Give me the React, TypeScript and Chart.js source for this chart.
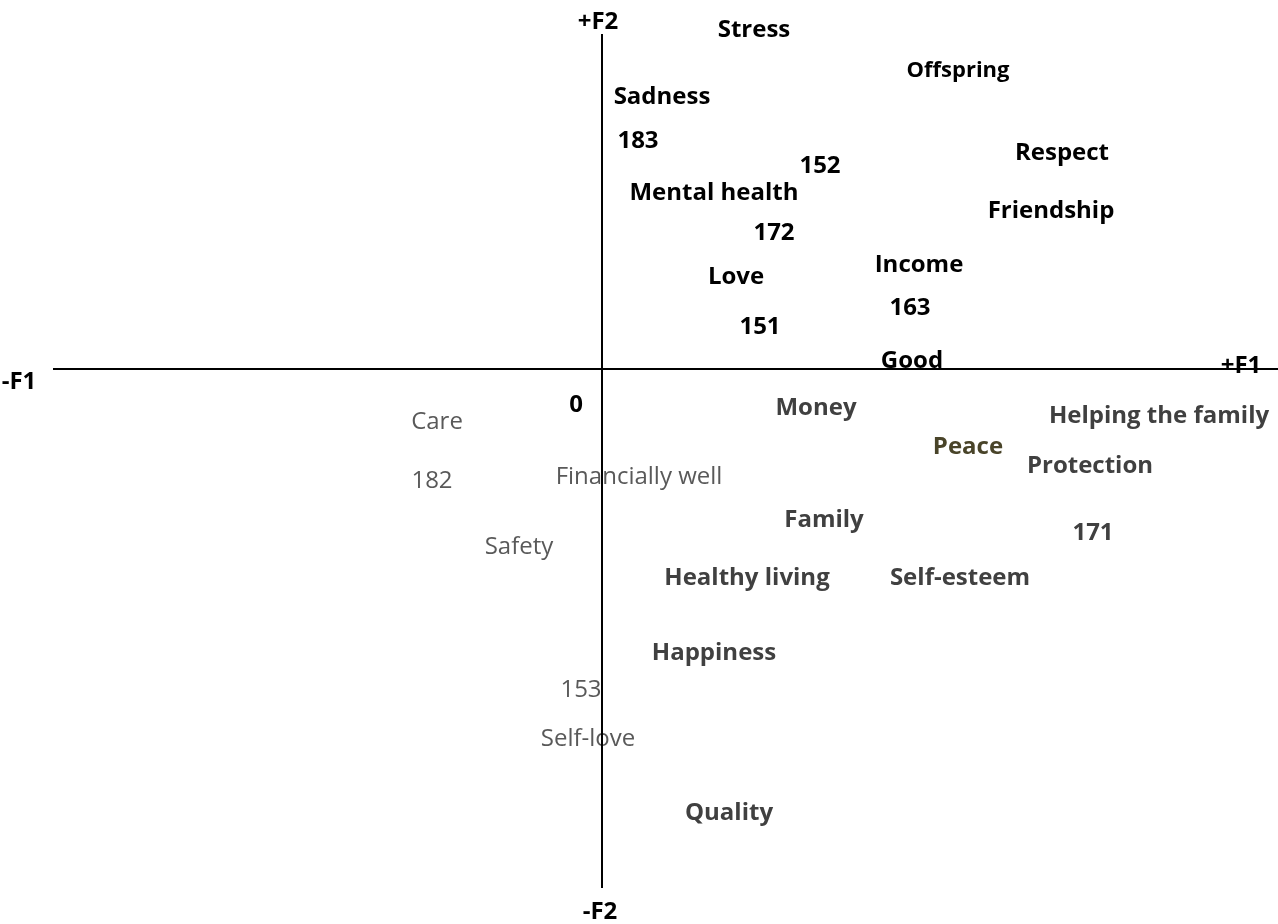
import React, { useEffect, useRef } from "react";
import { Chart, registerables } from "chart.js";

Chart.register(...registerables);

// Pole labels of the two factor axes
const axisLabels = ["+F2", "-F2", "-F1", "+F1"];
const axisF1 = [-0.04, -0.02, -5.83, 6.39];
const axisF2 = [3.47, -5.43, -0.13, 0.03];

// Extent of the drawn axes (factor units)
const f1AxisRange = [-5.49, 6.76];
const f2AxisRange = [-5.19, 3.35];

// Bold black terms (positive F2 side)
const blackLabels = ["Stress", "Sadness", "183", "152", "Respect", "Mental health", "Friendship", "172", "Income", "Love", "163", "151", "Good", "0"];
const blackF1 = [1.52, 0.60, 0.36, 2.18, 4.60, 1.12, 4.49, 1.72, 3.17, 1.34, 3.08, 1.58, 3.10, -0.26];
const blackF2 = [3.39, 2.72, 2.28, 2.03, 2.16, 1.76, 1.58, 1.36, 1.04, 0.92, 0.61, 0.42, 0.08, -0.36];

// Smaller bold black term
const smallLabels = ["Offspring"];
const smallF1 = [3.56];
const smallF2 = [2.98];

// Bold grey terms
const greyBoldLabels = ["Money", "Helping the family", "Protection", "Family", "171", "Healthy living", "Self-esteem", "Happiness", "Quality"];
const greyBoldF1 = [2.14, 5.57, 4.88, 2.22, 4.91, 1.45, 3.58, 1.12, 1.27];
const greyBoldF2 = [-0.39, -0.47, -0.97, -1.51, -1.64, -2.09, -2.09, -2.84, -4.44];

// Olive term
const oliveLabels = ["Peace"];
const oliveF1 = [3.66];
const oliveF2 = [-0.78];

// Regular grey terms
const greyLabels = ["Care", "182", "Financially well", "Safety", "153", "Self-love"];
const greyF1 = [-1.65, -1.70, 0.37, -0.83, -0.21, -0.14];
const greyF2 = [-0.53, -1.12, -1.08, -1.78, -3.21, -3.70];

const FONT = "'Open Sans', Lato, sans-serif";

function pts(xs: number[], ys: number[]) {
  return xs.map((x, i) => ({ x, y: ys[i] }));
}

const textPlugin = {
  id: "termText",
  afterDatasetsDraw(chart: any) {
    const ctx = chart.ctx;
    chart.data.datasets.forEach((ds: any, i: number) => {
      const meta = chart.getDatasetMeta(i);
      ctx.save();
      ctx.font = ds.textFont;
      ctx.fillStyle = ds.textColor;
      ctx.textAlign = "center";
      ctx.textBaseline = "middle";
      meta.data.forEach((el: any, j: number) => {
        ctx.fillText(ds.terms[j], el.x, el.y);
      });
      ctx.restore();
    });
  },
  afterDraw(chart: any) {
    const ctx = chart.ctx;
    const xs = chart.scales.x;
    const ys = chart.scales.y;
    const x0 = xs.getPixelForValue(0);
    const y0 = ys.getPixelForValue(0);
    ctx.save();
    ctx.strokeStyle = "#000000";
    ctx.lineWidth = 2;
    ctx.beginPath();
    ctx.moveTo(xs.getPixelForValue(f1AxisRange[0]), y0);
    ctx.lineTo(xs.getPixelForValue(f1AxisRange[1]), y0);
    ctx.moveTo(x0, ys.getPixelForValue(f2AxisRange[1]));
    ctx.lineTo(x0, ys.getPixelForValue(f2AxisRange[0]));
    ctx.stroke();
    ctx.restore();
  },
};

export default function App() {
  const ref = useRef<HTMLCanvasElement | null>(null);
  useEffect(() => {
    document.body.style.margin = "0";
    const canvas = ref.current!;
    const chart = new Chart(canvas, {
      type: "scatter",
      data: {
        datasets: [
          { data: pts(axisF1, axisF2), terms: axisLabels, textFont: `bold 24px ${FONT}`, textColor: "#000000", pointRadius: 0 } as any,
          { data: pts(blackF1, blackF2), terms: blackLabels, textFont: `bold 24px ${FONT}`, textColor: "#000000", pointRadius: 0 } as any,
          { data: pts(smallF1, smallF2), terms: smallLabels, textFont: `bold 22px ${FONT}`, textColor: "#000000", pointRadius: 0 } as any,
          { data: pts(greyBoldF1, greyBoldF2), terms: greyBoldLabels, textFont: `bold 24px ${FONT}`, textColor: "#404040", pointRadius: 0 } as any,
          { data: pts(oliveF1, oliveF2), terms: oliveLabels, textFont: `bold 24px ${FONT}`, textColor: "#494429", pointRadius: 0 } as any,
          { data: pts(greyF1, greyF2), terms: greyLabels, textFont: `24px ${FONT}`, textColor: "#595959", pointRadius: 0 } as any,
        ],
      },
      options: {
        animation: false,
        responsive: false,
        events: [],
        layout: { padding: 0 },
        plugins: { legend: { display: false }, tooltip: { enabled: false } },
        scales: {
          x: { type: "linear", min: -6.02, max: 6.76, display: false },
          y: { type: "linear", min: -5.55, max: 3.69, display: false },
        },
      },
      plugins: [textPlugin],
    });
    return () => chart.destroy();
  }, []);
  return (
    <div style={{ width: 1278, height: 924, background: "#ffffff" }}>
      <canvas ref={ref} width={1278} height={924} style={{ display: "block" }} />
    </div>
  );
}
